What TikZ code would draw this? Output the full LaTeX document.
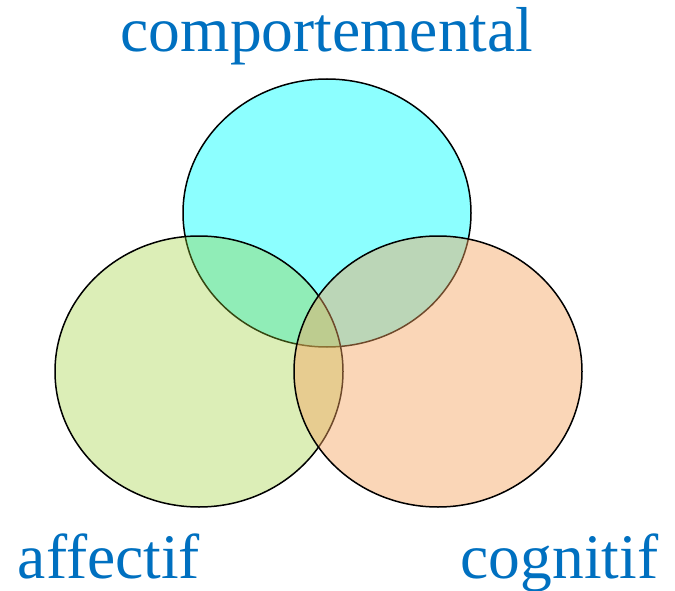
\documentclass[tikz,border=0pt]{standalone}
\usepackage{fontspec}
\setmainfont{Liberation Serif}
\definecolor{lblblue}{RGB}{0,112,192}
\definecolor{ccyan}{RGB}{0,255,255}
\definecolor{cgreen}{RGB}{154,205,50}
\definecolor{cpeach}{RGB}{244,164,96}
\tikzset{
  setc/.style={draw=black, line width=1.5pt},
  lbl/.style={text=lblblue, font=\fontsize{63.5}{70}\selectfont, anchor=base, inner sep=0pt}
}
\begin{document}
\begin{tikzpicture}[x=1pt,y=-1pt]
\useasboundingbox (0,0) rectangle (675,591);
\path[setc, fill=ccyan, fill opacity=0.45] (327,213) ellipse [x radius=144, y radius=134];
\path[setc, fill=cgreen, fill opacity=0.35] (199,371.5) ellipse [x radius=144, y radius=135.5];
\path[setc, fill=cpeach, fill opacity=0.45] (438,371.5) ellipse [x radius=144, y radius=135.5];
\node[lbl] (comp) at (327,52) {comportemental};
\node[lbl] (aff) at (109,578) {affectif};
\node[lbl] (cog) at (559.5,578) {cognitif};
\end{tikzpicture}
\end{document}
